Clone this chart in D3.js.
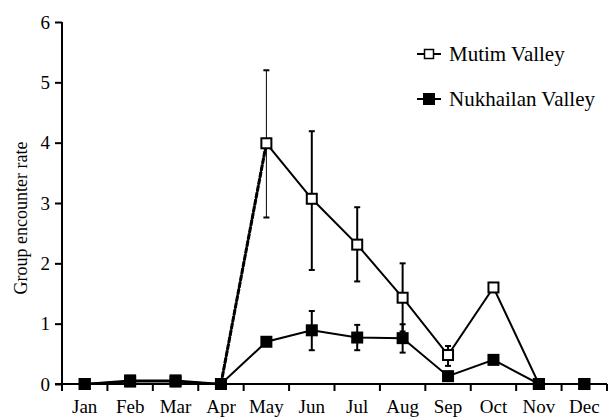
<!DOCTYPE html>
<html>
<head>
<meta charset="utf-8">
<script src="https://cdn.jsdelivr.net/npm/d3@7"></script>
<style>
  body { margin: 0; background: #fff; }
</style>
</head>
<body>
<div id="chart"></div>
<script>
// months on the x axis
const months = ['Jan', 'Feb', 'Mar', 'Apr', 'May', 'Jun', 'Jul', 'Aug', 'Sep', 'Oct', 'Nov', 'Dec'];
const yTicks = [0, 1, 2, 3, 4, 5, 6];

// group encounter rate per month
const mutim = [0, 0.04, 0.04, 0, 3.99, 3.07, 2.31, 1.43, 0.48, 1.6, 0, 0];
const nukhailan = [0, 0.06, 0.06, 0, 0.7, 0.89, 0.77, 0.76, 0.13, 0.4, 0, 0];

// error bars [month, low, high]
const mutimErr = [['May', 2.76, 5.2], ['Jun', 1.89, 4.19], ['Jul', 1.7, 2.93], ['Aug', 0.87, 2.0], ['Sep', 0.3, 0.63]];
const nukhailanErr = [['Jun', 0.56, 1.21], ['Jul', 0.56, 0.98], ['Aug', 0.52, 0.99]];

const FONT = '"Liberation Serif"';
const width = 612, height = 419;
const svg = d3.select('#chart').append('svg')
    .attr('width', width)
    .attr('height', height)
    .style('font-family', FONT);

const x = d3.scaleBand().domain(months).range([62, 607]).padding(0);
const y = d3.scaleLinear().domain([0, 6]).range([384, 22]);
const cx = m => x(m) + x.bandwidth() / 2;

// y axis
const yAxis = svg.append('g').attr('transform', 'translate(62,0)')
    .call(d3.axisLeft(y).tickValues(yTicks).tickSize(7).tickPadding(5).tickFormat(d3.format('d')));
yAxis.attr('font-family', null).attr('font-size', null);
yAxis.select('.domain').attr('stroke-width', 2).attr('d', `M0,${y(6)}V${y(0)}`);
yAxis.selectAll('.tick line').attr('stroke-width', 2);
yAxis.selectAll('.tick text')
    .style('font-family', FONT)
    .style('font-size', '19px');

// x axis: ticks at band edges, labels at centres
const xg = svg.append('g');
xg.append('line')
    .attr('x1', 55).attr('x2', x.range()[1])
    .attr('y1', y(0)).attr('y2', y(0))
    .attr('stroke', '#000').attr('stroke-width', 2);
xg.selectAll('line.tk').data(months.concat(['end'])).join('line')
    .attr('class', 'tk')
    .attr('x1', (d, i) => x.range()[0] + i * x.bandwidth())
    .attr('x2', (d, i) => x.range()[0] + i * x.bandwidth())
    .attr('y1', y(0)).attr('y2', y(0) + 7)
    .attr('stroke', '#000').attr('stroke-width', 2);
xg.selectAll('text').data(months).join('text')
    .attr('x', d => cx(d))
    .attr('y', 413)
    .attr('text-anchor', 'middle')
    .style('font-family', FONT)
    .style('font-size', '19px')
    .text(d => d);

// y axis title
svg.append('text')
    .attr('transform', 'translate(27,218) rotate(-90)')
    .attr('text-anchor', 'middle')
    .style('font-family', FONT)
    .style('font-size', '18px')
    .text('Group encounter rate');

const line = d3.line().x((d, i) => cx(months[i])).y(d => y(d));

function errorBars(data, widthFor) {
    const g = svg.append('g');
    data.forEach(([m, lo, hi]) => {
        const w = widthFor(m);
        g.append('line').attr('x1', cx(m)).attr('x2', cx(m))
            .attr('y1', y(lo)).attr('y2', y(hi))
            .attr('stroke', '#000').attr('stroke-width', w);
        [lo, hi].forEach(v => {
            g.append('line').attr('x1', cx(m) - 3).attr('x2', cx(m) + 3)
                .attr('y1', y(v)).attr('y2', y(v))
                .attr('stroke', '#000').attr('stroke-width', 2);
        });
    });
}

// Mutim Valley
errorBars(mutimErr, m => m === 'May' ? 1 : 2);
svg.append('path').datum(mutim)
    .attr('d', line).attr('fill', 'none')
    .attr('stroke', '#000').attr('stroke-width', 2);
// the rise from Apr to May is drawn heavier in the original
svg.append('line')
    .attr('x1', cx('Apr')).attr('y1', y(mutim[3]))
    .attr('x2', cx('May')).attr('y2', y(mutim[4]))
    .attr('stroke', '#000').attr('stroke-width', 3).attr('stroke-dasharray', '6,1');
svg.selectAll('rect.mut').data(mutim).join('rect')
    .attr('class', 'mut')
    .attr('x', (d, i) => cx(months[i]) - 5)
    .attr('y', d => y(d) - 5)
    .attr('width', 10).attr('height', 10)
    .attr('fill', '#fff').attr('stroke', '#000').attr('stroke-width', 2);

// Nukhailan Valley
errorBars(nukhailanErr, () => 2);
svg.append('path').datum(nukhailan)
    .attr('d', line).attr('fill', 'none')
    .attr('stroke', '#000').attr('stroke-width', 2);
svg.selectAll('rect.nuk').data(nukhailan).join('rect')
    .attr('class', 'nuk')
    .attr('x', (d, i) => cx(months[i]) - 6)
    .attr('y', d => y(d) - 6)
    .attr('width', 12).attr('height', 12)
    .attr('fill', '#000');

// legend
const legend = [
    { name: 'Mutim Valley', filled: false, y: 54 },
    { name: 'Nukhailan Valley', filled: true, y: 99 }
];
legend.forEach(l => {
    const g = svg.append('g');
    g.append('line').attr('x1', 417).attr('x2', 441)
        .attr('y1', l.y).attr('y2', l.y)
        .attr('stroke', '#000').attr('stroke-width', 2);
    const s = l.filled ? 12 : 9;
    g.append('rect')
        .attr('x', 429 - s / 2).attr('y', l.y - s / 2)
        .attr('width', s).attr('height', s)
        .attr('fill', l.filled ? '#000' : '#fff')
        .attr('stroke', l.filled ? 'none' : '#000')
        .attr('stroke-width', 1.5);
    g.append('text')
        .attr('x', 449).attr('y', l.y + 7)
        .style('font-family', FONT)
        .style('font-size', '21px')
        .text(l.name);
});
</script>
</body>
</html>
